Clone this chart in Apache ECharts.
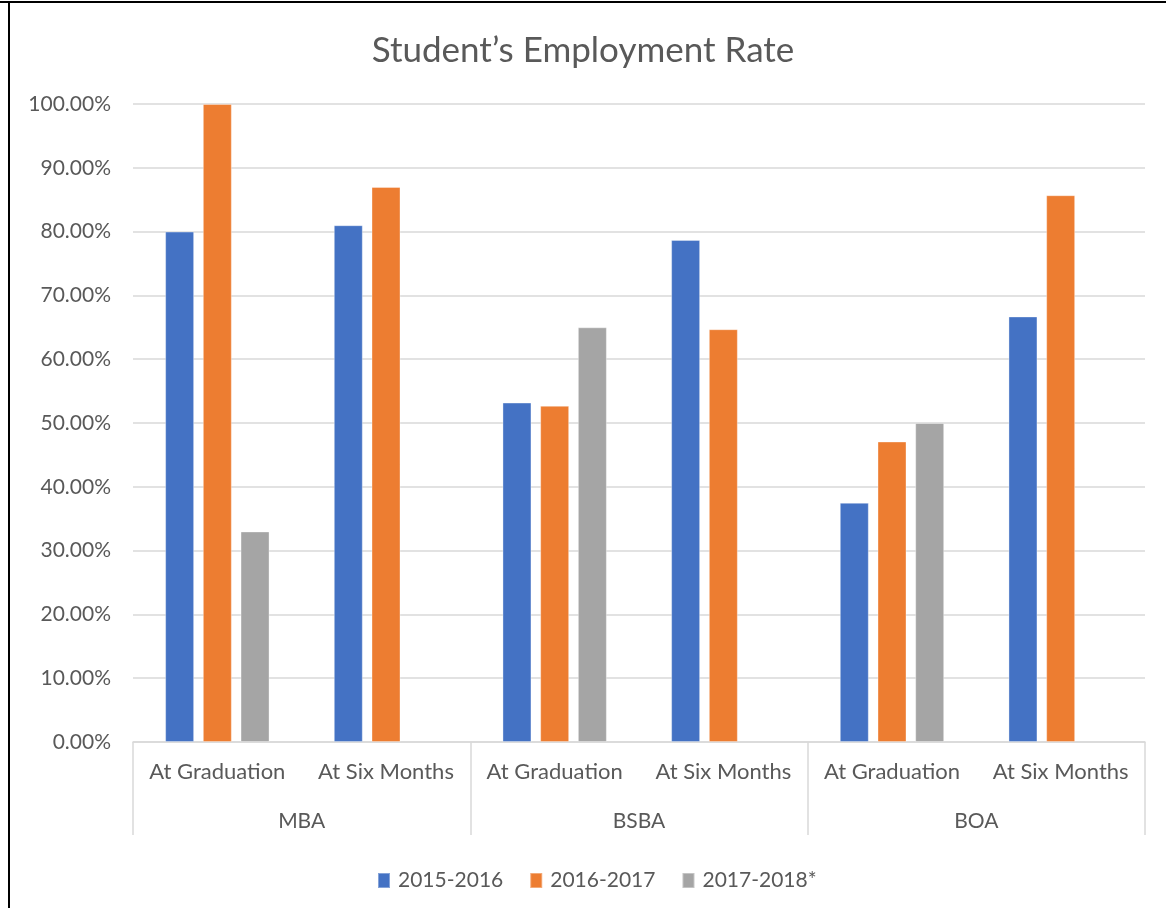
<!DOCTYPE html>
<html>
<head>
<meta charset="utf-8">
<script src="https://cdn.jsdelivr.net/npm/echarts@6/dist/echarts.min.js"></script>
<style>
html,body{margin:0;padding:0;background:#fff;}
#chart{width:1166px;height:908px;}
</style>
</head>
<body>
<div id="chart"></div>
<script>
const subCategories = ['At Graduation','At Six Months','At Graduation','At Six Months','At Graduation','At Six Months'];
const groups = ['MBA','BSBA','BOA'];
const seriesNames = ['2015-2016','2016-2017','2017-2018*'];
const s2015 = [80, 81, 53.2, 78.7, 37.5, 66.7];
const s2016 = [100, 87, 52.7, 64.7, 47.1, 85.7];
const s2017 = [33, null, 65, null, 50, null];
const yTicks = [0,10,20,30,40,50,60,70,80,90,100];
const colors = ['#4472C4','#ED7D31','#A5A5A5'];

const FONT = 'Lato';
const chart = echarts.init(document.getElementById('chart'));
const data = [s2015, s2016, s2017];
chart.setOption({
  animation:false,
  color: colors,
  title:{
    text:"Student\u2019s Employment Rate",
    left:'center', top:28,
    textStyle:{fontFamily:FONT, fontSize:35, fontWeight:'normal', color:'#595959'}
  },
  legend:{
    bottom:12, left:372,
    itemWidth:12, itemHeight:15, itemGap:26,
    icon:'rect',
    textStyle:{fontFamily:FONT, fontSize:21, color:'#595959', padding:[0,0,0,3]},
    data: seriesNames
  },
  graphic:[
    {type:'rect', shape:{x:0,y:1,width:1166,height:2}, style:{fill:'#000'}},
    {type:'rect', shape:{x:8,y:1,width:2,height:908}, style:{fill:'#000'}}
  ],
  grid:{left:133, right:21, top:104, bottom:166, containLabel:false},
  xAxis:[
    {
      type:'category', data: subCategories, position:'bottom',
      axisLine:{show:true, lineStyle:{color:'#D9D9D9', width:1.5}},
      axisTick:{show:false},
      axisLabel:{fontFamily:FONT, fontSize:22, color:'#595959', margin:19, interval:0}
    },
    {
      type:'category', data: groups, position:'bottom', offset:0,
      axisLine:{show:false},
      axisTick:{show:true, length:93, lineStyle:{color:'#D9D9D9', width:1.5}},
      axisLabel:{fontFamily:FONT, fontSize:21, color:'#595959', margin:69, interval:0},
      splitLine:{show:false}
    }
  ],
  yAxis:{
    type:'value', min:0, max:100, interval:10,
    axisLine:{show:false}, axisTick:{show:false},
    splitLine:{lineStyle:{color:'#D9D9D9', width:1.5}},
    axisLabel:{fontFamily:FONT, fontSize:21, color:'#595959', margin:22,
      formatter: v => yTicks.includes(v) ? v.toFixed(2)+'%' : ''}
  },
  series: seriesNames.map((n,i)=>({
    name:n, type:'bar', xAxisIndex:0, data:data[i],
    barWidth:29, barGap:'30%',
    itemStyle:{color:colors[i], borderColor:'rgba(255,255,255,0.35)', borderWidth:1}
  }))
});
</script>
</body>
</html>
